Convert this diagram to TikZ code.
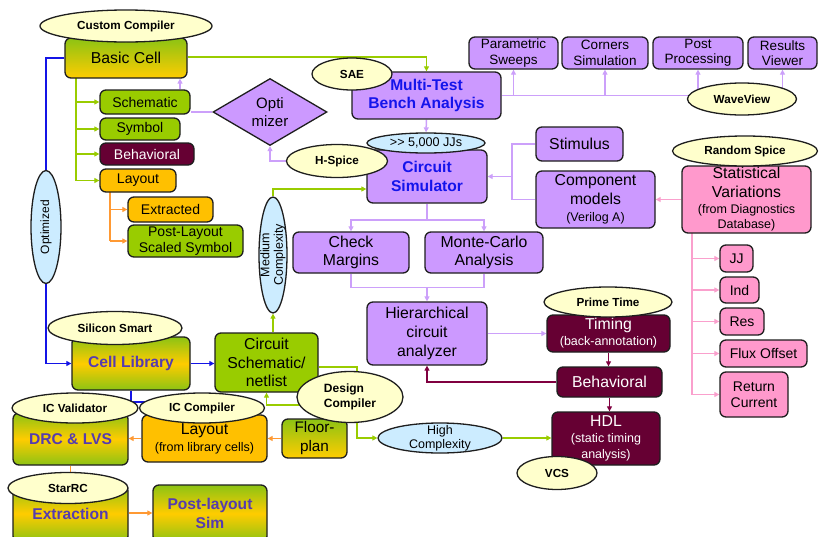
\documentclass[tikz,border=0pt]{standalone}
\usepackage{fontspec}
\setmainfont{Liberation Sans}
\usetikzlibrary{shapes.geometric,arrows.meta,calc}
\definecolor{cpur}{RGB}{204,153,255}
\definecolor{cgrn}{RGB}{153,204,0}
\definecolor{corg}{RGB}{255,192,0}
\definecolor{cmar}{RGB}{102,0,51}
\definecolor{cpnk}{RGB}{255,153,204}
\definecolor{cyel}{RGB}{255,255,204}
\definecolor{cblu}{RGB}{204,236,255}
\definecolor{cbdr}{RGB}{30,30,30}
\definecolor{lgrn}{RGB}{153,204,0}
\definecolor{lvio}{RGB}{204,160,250}
\definecolor{lblu}{RGB}{20,20,230}
\definecolor{lorg}{RGB}{255,153,51}
\definecolor{lpnk}{RGB}{250,160,205}
\definecolor{lmar}{RGB}{128,0,64}
\definecolor{tblu}{RGB}{20,20,235}
\definecolor{tpur}{RGB}{85,60,175}
\definecolor{gtop}{RGB}{140,195,20}
\definecolor{gyel}{RGB}{255,204,0}
\pgfdeclarelayer{bg}
\pgfsetlayers{bg,main}
\newcommand\smtxt{\fontsize{12.5}{14.5}\selectfont}
\begin{document}
\begin{tikzpicture}[x=1pt,y=-1pt,>={Triangle[length=5pt,width=5pt]},
  box/.style={rectangle,rounded corners=6pt,draw=cbdr,line width=1.3pt,inner sep=0pt,align=center},
  ell/.style={ellipse,draw=cbdr,line width=1.3pt,fill=cyel,inner sep=0pt,align=center,font=\bfseries\fontsize{11.7}{13.5}\selectfont},
  bell/.style={ellipse,draw=cbdr,line width=1.3pt,fill=cblu,inner sep=0pt},
  f14/.style={font=\fontsize{14}{16}\selectfont},
  f135/.style={font=\fontsize{13.5}{15.5}\selectfont},
  f16/.style={font=\fontsize{15.8}{18.5}\selectfont},
  f16b/.style={font=\bfseries\fontsize{15.6}{18.5}\selectfont},
  grad/.style={top color=gtop,bottom color=gtop,middle color=gyel},
  gradb/.style={top color=gtop,bottom color=gyel},
  con/.style={line width=1.5pt},
  gl/.style={con,draw=lgrn},
  vl/.style={con,draw=lvio},
  bl/.style={con,draw=lblu},
  ol/.style={con,draw=lorg},
  pl/.style={con,draw=lpnk},
  ml/.style={con,draw=lmar},
  mw/.style={minimum width=#1},
  mh/.style={minimum height=#1}]
\useasboundingbox (0,0) rectangle (820,536);

% ---------- boxes ----------
\node[box,f16,gradb,mw=122,mh=40] (basic) at (126,58) {Basic Cell};
\node[box,f14,fill=cgrn,mw=90,mh=24] (schem) at (145,102) {Schematic};
\node[box,f14,fill=cgrn,mw=80,mh=22] (symb) at (140,129) {Symbol};
\node[box,f14,fill=cmar,text=white,mw=94,mh=22] (behl) at (147,154) {Behavioral};
\node[box,f14,fill=corg,mw=76,mh=23] (layl) at (138,180.5) {Layout};
\node[box,f14,fill=corg,mw=85,mh=25] (extr) at (170.5,209.5) {Extracted};
\node[box,f14,fill=cgrn,mw=115,mh=32] (postl) at (185.5,241) {Post-Layout\\Scaled Symbol};
\node[diamond,shape aspect=1.7,draw=cbdr,line width=1.3pt,fill=cpur,inner sep=0pt,
      minimum width=114,minimum height=67,align=center,font=\fontsize{15}{17.5}\selectfont] (opt) at (270,112) {Opti\\mizer};

\node[box,f16b,fill=cpur,text=tblu,mw=149,mh=47] (mtb) at (426.5,95.5) {Multi-Test\\Bench Analysis};
\node[box,f16b,fill=cpur,text=tblu,mw=120,mh=53] (csim) at (427,176.5) {Circuit\\Simulator};
\node[box,f135,fill=cpur,mw=89,mh=32] (psw) at (513.5,53) {Parametric\\Sweeps};
\node[box,f135,fill=cpur,mw=86,mh=32] (corn) at (605,53) {Corners\\Simulation};
\node[box,f135,fill=cpur,mw=90,mh=32] (post) at (698,53) {Post\\Processing};
\node[box,f135,fill=cpur,mw=69,mh=32] (resv) at (782.5,53) {Results\\Viewer};
\node[box,f16,fill=cpur,mw=87,mh=34] (stim) at (579.5,144) {Stimulus};
\node[box,f16,fill=cpur,mw=119,mh=57] (comp) at (595.5,199.5) {Component\\models\\[-1pt]{\smtxt(Verilog A)}};
\node[box,f16,fill=cpnk,mw=129,mh=67] (stat) at (746.5,199.5) {Statistical\\Variations\\[-2.5pt]{\smtxt(from Diagnostics}\\[-3pt]{\smtxt Database)}};
\node[box,f14,fill=cpnk,mw=33,mh=27] (jj) at (736.5,258.5) {JJ};
\node[box,f14,fill=cpnk,mw=39,mh=26] (ind) at (739.5,290) {Ind};
\node[box,f14,fill=cpnk,mw=44,mh=27] (res) at (742,321.5) {Res};
\node[box,f14,fill=cpnk,mw=87,mh=27] (flux) at (763.5,353.5) {Flux Offset};
\node[box,f14,fill=cpnk,mw=68,mh=45] (retc) at (754,394.5) {Return\\Current};
\node[box,f16,fill=cpur,mw=116,mh=41] (cm) at (351,252.5) {Check\\Margins};
\node[box,f16,fill=cpur,mw=118,mh=41] (mc) at (484,252.5) {Monte-Carlo\\Analysis};
\node[box,fill=cpur,mw=120,mh=63,font=\fontsize{15.8}{19}\selectfont] (hier) at (427,333.5) {Hierarchical\\circuit\\analyzer};
\node[box,f16,fill=cmar,text=white,mw=123,mh=37] (timing) at (608.5,333.5) {Timing\\[-2.5pt]{\smtxt(back-annotation)}};
\node[box,f16,fill=cmar,text=white,mw=105,mh=30] (behr) at (609.5,382) {Behavioral};
\node[box,f16,fill=cmar,text=white,mw=108,mh=53] (hdl) at (606,438.5) {HDL\\[-2pt]{\smtxt(static timing}\\[-2.5pt]{\smtxt analysis)}};

\node[box,f16b,grad,text=tpur,mw=118,mh=53] (celllib) at (131,363.5) {Cell Library};
\node[box,fill=cgrn,mw=103,mh=59,font=\fontsize{15.8}{18.5}\selectfont] (csch) at (266.5,362.5) {Circuit\\Schematic/\\netlist};
\node[box,f16b,grad,text=tpur,mw=115,mh=52] (drc) at (70.5,439) {DRC \& LVS};
\node[box,f16,fill=corg,mw=125,mh=47] (layc) at (204.5,438.5) {Layout\\[-1.5pt]{\smtxt(from library cells)}};
\node[box,gradb,mw=65,mh=39,font=\fontsize{15.3}{19}\selectfont] (floor) at (314.5,438.5) {Floor-\\plan};
\node[box,f16b,grad,text=tpur,mw=115,mh=57] (extn) at (70.5,513.5) {Extraction};
\node[box,f16b,grad,text=tpur,mw=114,mh=57] (pls) at (210,513.5) {Post-layout\\Sim};

% ---------- ellipses ----------
\node[ell,mw=172,mh=32] (cc) at (126,26) {Custom Compiler};
\node[ell,mw=80,mh=32] (sae) at (352,74) {SAE};
\node[ell,mw=101,mh=33] (hsp) at (337,161) {H-Spice};
\node[bell,mw=118,mh=20,font=\fontsize{12.6}{14}\selectfont] (jjs) at (426,143) {>{}> 5,000 JJs};
\node[ell,mw=109,mh=32] (wave) at (742,99) {WaveView};
\node[ell,mw=145,mh=30] (rand) at (745,151) {Random Spice};
\node[ell,mw=128,mh=30] (prime) at (608,302) {Prime Time};
\node[ell,mw=80,mh=33] (vcs) at (557,473) {VCS};
\node[ell,mw=134,mh=33] (silicon) at (115,328) {Silicon Smart};
\node[ell,mw=126,mh=30] (icv) at (75,408) {IC Validator};
\node[ell,mw=125,mh=30] (icc) at (202,408) {IC Compiler};
\node[ell,mw=120,mh=31] (star) at (68,488) {StarRC};
\node[ell,mw=106,mh=51,align=left,font=\bfseries\fontsize{12}{14.5}\selectfont] (dc) at (350,397) {Design\\Compiler};
\node[bell,mw=30,mh=113] (optz) at (46,227) {};
\node[rotate=90,font=\fontsize{12}{14}\selectfont] (optzt) at (optz.center) {Optimized};
\node[bell,mw=28,mh=116] (med) at (273,255) {};
\node[rotate=90,align=center,font=\fontsize{12.5}{13.5}\selectfont] (medt) at (med.center) {Medium\\Complexity};
\node[bell,mw=124,mh=30] (hc) at (440,438) {};
\node[align=center,font=\fontsize{12.5}{14}\selectfont] (hct) at (hc.center) {High\\Complexity};

% ---------- connectors ----------
\begin{pgfonlayer}{bg}
\fill[white] (0,0) rectangle (820,536);
% green
\draw[gl,->] (basic.east |- 0,57) -| (mtb.north);
\coordinate (gtx) at (76,78);
\draw[gl] (gtx) -- (gtx |- layl.west);
\foreach \n in {schem,symb,behl,layl} \draw[gl,->] (gtx |- \n.west) -- (\n.west);
\draw[gl,->] (med.north) |- (csim.west |- 0,189);
\draw[gl,->] (csch.north -| med.south) -- (med.south);
\draw[gl,->] (csch.east |- 0,367) -- (357,367) |- (hc.west);
\draw[gl,->] (dc.center |- 0,405) -| (csch.south);
\draw[gl,->] (hc.east) -- (hc.east -| hdl.west);
% orange
\coordinate (otx) at (110,192);
\draw[ol] (otx) -- (otx |- postl.west);
\foreach \n in {extr,postl} \draw[ol,->] (otx |- \n.west) -- (\n.west);
\draw[ol,->] (floor.west) -- (floor.west -| layc.east);
\draw[ol,->] (layc.west) -- (layc.west -| drc.east);
\draw[ol] (drc.south) -- (drc.south |- star.center);
\draw[ol,->] (extn.east |- 0,513) -- (pls.west |- 0,513);
% violet
\draw[vl] (opt.west) -- (opt.west -| schem.east);
\draw[vl,->] (schem.north -| 180,0) -- (basic.south -| 180,0);
\draw[vl,->] (hsp.west) -| (opt.south);
\draw[vl,->] (mtb.south) -- (jjs.north);
\draw[vl] (mtb.east) -- (mtb.east -| resv.south);
\foreach \n in {psw,corn,post,resv} \draw[vl,->] (mtb.east -| \n.south) -- (\n.south);
\draw[vl] (stim.west) -- (stim.west -| 512,0) |- (comp.west);
\draw[vl,->] (csim.east -| 512,0) -- (csim.east);
\coordinate (cj) at ($(csim.south)+(0,16.5)$);
\draw[vl] (csim.south) -- (cj);
\draw[vl,->] (cj) -| (cm.north);
\draw[vl,->] (cj) -| (mc.north);
\coordinate (mj) at ($(cm.south)+(0,14)$);
\draw[vl] (cm.south) -- (mj) -| (mc.south);
\draw[vl,->] (mj -| hier.north) -- (hier.north);
\draw[vl,->] (hier.east) -- (timing.west);
% pink
\draw[pl,->] (stat.west) -- (stat.west -| comp.east);
\coordinate (ptx) at (692,233);
\draw[pl] (ptx) -- (ptx |- retc.west);
\foreach \n in {jj,ind,res,flux,retc} \draw[pl,->] (ptx |- \n.west) -- (\n.west);
% maroon
\draw[ml,->] (timing.south) -- (timing.south |- behr.north);
\draw[ml,->] (behr.south) -- (behr.south |- hdl.north);
\draw[ml,->] (behr.west) -| (hier.south);
% blue
\draw[bl] (basic.west) -| (optz.north);
\draw[bl,->] (optz.south) |- (celllib.west);
\draw[bl,->] (celllib.east) -- (celllib.east -| csch.west);
\draw[bl] (celllib.south) |- (icc.center |- 0,402);
\end{pgfonlayer}
\end{tikzpicture}
\end{document}
